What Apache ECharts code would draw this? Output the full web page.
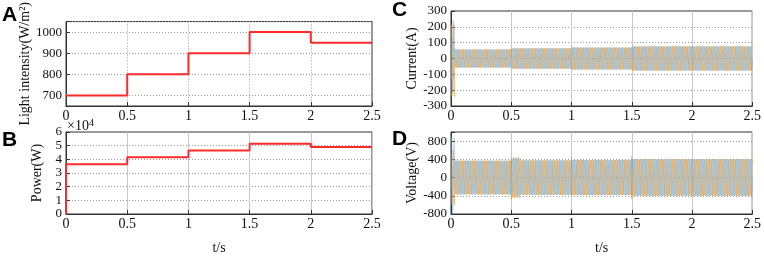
<!DOCTYPE html>
<html><head><meta charset="utf-8">
<script src="https://cdn.jsdelivr.net/npm/echarts@6/dist/echarts.min.js"></script>
<style>html,body{margin:0;padding:0;background:#fff}#c{width:764px;height:256px}</style>
</head><body><div id="c"></div>
<script>
// ---- Data ----
const xTicks = [0, 0.5, 1, 1.5, 2, 2.5];
// Panel A: light intensity steps
const lightTimes = [0, 0.5, 1, 1.5, 2, 2.5];
const lightValues = [700, 800, 900, 1000, 950, 950];
const lightTickLabels = [700, 800, 900, 1000];
// Panel B: PV power steps (W)
const powerTimes = [0, 0, 0.5, 1, 1.5, 2, 2.5];
const powerValues = [0, 36400, 41600, 46500, 51400, 49100, 49100];
// Panels C/D: three-phase waveforms, 50 Hz, described by segment envelopes
const gridFreq = 50;
const cycleShape = [0, 0.5, 0.866, 1, 0.866, 0.5, 0, -0.5, -0.866, -1, -0.866, -0.5];
const phaseShiftSamples = [0, 4, 8];
const currentSegEdges = [0, 0.03, 0.5, 1.0, 1.5, 2.5];
const currentAmpBlue   = [215, 66, 74, 80, 88];
const currentAmpOrange = [240, 66, 74, 80, 88];
const currentAmpGrey   = [130, 66, 74, 80, 88];
const voltageSegEdges = [0, 0.03, 0.5, 0.57, 1.0, 1.5, 2.5];
const voltageAmpBlue   = [880, 370, 420, 378, 385, 400];
const voltageAmpOrange = [600, 370, 450, 378, 385, 400];
const voltageAmpGrey   = [300, 370, 400, 378, 385, 400];
const voltageSpikesBlue   = [[0.5, 430], [1.0, 450], [1.5, 470]];
const voltageSpikesOrange = [[0.5, -480], [1.0, -420], [1.5, -470]];
const phaseColors = ['#5aa5e0', '#f5a03a', '#b8b2a0'];
const phaseOpacity = [0.65, 0.9, 0.6];

function ampAt(edges, amps, t) {
  for (let i = 0; i < amps.length; i++) if (t < edges[i + 1]) return amps[i];
  return amps[amps.length - 1];
}
function buildWave(edges, amps, shift, spikes) {
  const n = cycleShape.length;
  const dt = 1 / (gridFreq * n);
  const total = Math.round(edges[edges.length - 1] / dt);
  const pts = [];
  for (let k = 0; k <= total; k++) {
    const t = k * dt;
    pts.push([t, ampAt(edges, amps, t) * cycleShape[(k + shift) % n]]);
  }
  (spikes || []).forEach(s => pts.push(s));
  pts.sort((a, b) => a[0] - b[0]);
  return pts;
}
function zip(a, b) { return a.map((v, i) => [v, b[i]]); }

const serif = '"Liberation Serif", "Times New Roman", serif';
const grids = [
  {left: 66, top: 11, width: 306, height: 95},
  {left: 66, top: 132, width: 306, height: 93},
  {left: 451, top: 11, width: 306, height: 95},
  {left: 451, top: 132, width: 306, height: 94}
];
function xAxis(i, dottedV, withName) {
  return {
    type: 'value', gridIndex: i, min: 0, max: 2.5, interval: 0.5,
    axisLine: {show: true, onZero: false, lineStyle: {color: '#333', width: 1}},
    axisTick: {show: true, inside: true, length: 4, lineStyle: {color: '#333'}},
    axisLabel: {fontFamily: serif, fontSize: 14, color: '#111', margin: 3, hideOverlap: false, showMinLabel: true, showMaxLabel: true},
    splitLine: {show: true, lineStyle: {color: dottedV ? '#999' : '#c8c8c8', type: dottedV ? [1, 2] : 'solid', width: 1}},
    name: withName ? 't/s' : '', nameLocation: 'middle', nameGap: 27,
    nameTextStyle: {fontFamily: serif, fontSize: 14, color: '#111'}
  };
}
function yAxis(i, min, max, interval, name, gap, fmt) {
  const o = {
    type: 'value', gridIndex: i, min: min, max: max,
    axisLine: {show: true, onZero: false, lineStyle: {color: '#333', width: 1}},
    axisTick: {show: true, inside: true, length: 4, lineStyle: {color: '#333'}},
    axisLabel: {fontFamily: serif, fontSize: 13, color: '#111', margin: 4, hideOverlap: false, showMinLabel: true, showMaxLabel: true},
    splitLine: {show: true, lineStyle: {color: '#999', type: [1, 2], width: 1}},
    name: name, nameLocation: 'middle', nameGap: gap,
    nameTextStyle: {fontFamily: serif, fontSize: 14, color: '#111'}
  };
  if (interval) o.interval = interval; else o.splitNumber = 4;
  if (fmt) o.axisLabel.formatter = fmt;
  return o;
}
const series = [
  {type: 'line', xAxisIndex: 0, yAxisIndex: 0, step: 'end', data: zip(lightTimes, lightValues),
   showSymbol: false, lineStyle: {color: '#ff2a2a', width: 2}, itemStyle: {color: '#ff2a2a'}},
  {type: 'line', xAxisIndex: 1, yAxisIndex: 1, step: 'end', data: zip(powerTimes, powerValues),
   showSymbol: false, lineStyle: {color: '#ff2a2a', width: 2}, itemStyle: {color: '#ff2a2a'}}
];
const curAmps = [currentAmpBlue, currentAmpOrange, currentAmpGrey];
const volAmps = [voltageAmpBlue, voltageAmpOrange, voltageAmpGrey];
const volSpikes = [voltageSpikesBlue, voltageSpikesOrange, []];
[2, 1, 0].forEach(p => {
  series.push({type: 'line', xAxisIndex: 2, yAxisIndex: 2, showSymbol: false, silent: true,
    data: buildWave(currentSegEdges, curAmps[p], phaseShiftSamples[p], []),
    lineStyle: {color: phaseColors[p], width: 0.6, opacity: phaseOpacity[p]}, itemStyle: {color: phaseColors[p]}});
  series.push({type: 'line', xAxisIndex: 3, yAxisIndex: 3, showSymbol: false, silent: true,
    data: buildWave(voltageSegEdges, volAmps[p], phaseShiftSamples[p], volSpikes[p]),
    lineStyle: {color: phaseColors[p], width: 0.6, opacity: phaseOpacity[p]}, itemStyle: {color: phaseColors[p]}});
});

const chart = echarts.init(document.getElementById('c'), null, {renderer: 'canvas'});
chart.setOption({
  animation: false,
  backgroundColor: '#fff',
  grid: grids.map(g => Object.assign({show: true, borderColor: '#333', borderWidth: 1, backgroundColor: 'transparent'}, g)),
  xAxis: [xAxis(0, true, false), xAxis(1, false, true), xAxis(2, false, false), xAxis(3, false, true)],
  yAxis: [
    yAxis(0, 650, 1050, null, 'Light intensity(W/m²)', 22, v => lightTickLabels.indexOf(v) >= 0 ? String(v) : ''),
    yAxis(1, 0, 60000, 10000, 'Power(W)', 22, v => String(v / 10000)),
    yAxis(2, -300, 300, 100, 'Current(A)', 25),
    yAxis(3, -800, 1000, 400, 'Voltage(V)', 25, v => v === 1000 ? '' : String(v))
  ],
  graphic: [
    {type: 'text', left: 2, top: 5, style: {text: 'A', font: 'bold 21px "Liberation Sans", Arial, sans-serif', fill: '#000'}},
    {type: 'text', left: 2, top: 130, style: {text: 'B', font: 'bold 21px "Liberation Sans", Arial, sans-serif', fill: '#000'}},
    {type: 'text', left: 392, top: 0, style: {text: 'C', font: 'bold 21px "Liberation Sans", Arial, sans-serif', fill: '#000'}},
    {type: 'text', left: 392, top: 129, style: {text: 'D', font: 'bold 21px "Liberation Sans", Arial, sans-serif', fill: '#000'}},
    {type: 'text', left: 67, top: 118, style: {text: '×10{s|4}', font: '14px "Liberation Serif"', fill: '#111',
      rich: {s: {fontSize: 10, verticalAlign: 'top', padding: [0, 0, 6, 0], fontFamily: serif}}}}
  ],
  series: series
});
</script></body></html>
